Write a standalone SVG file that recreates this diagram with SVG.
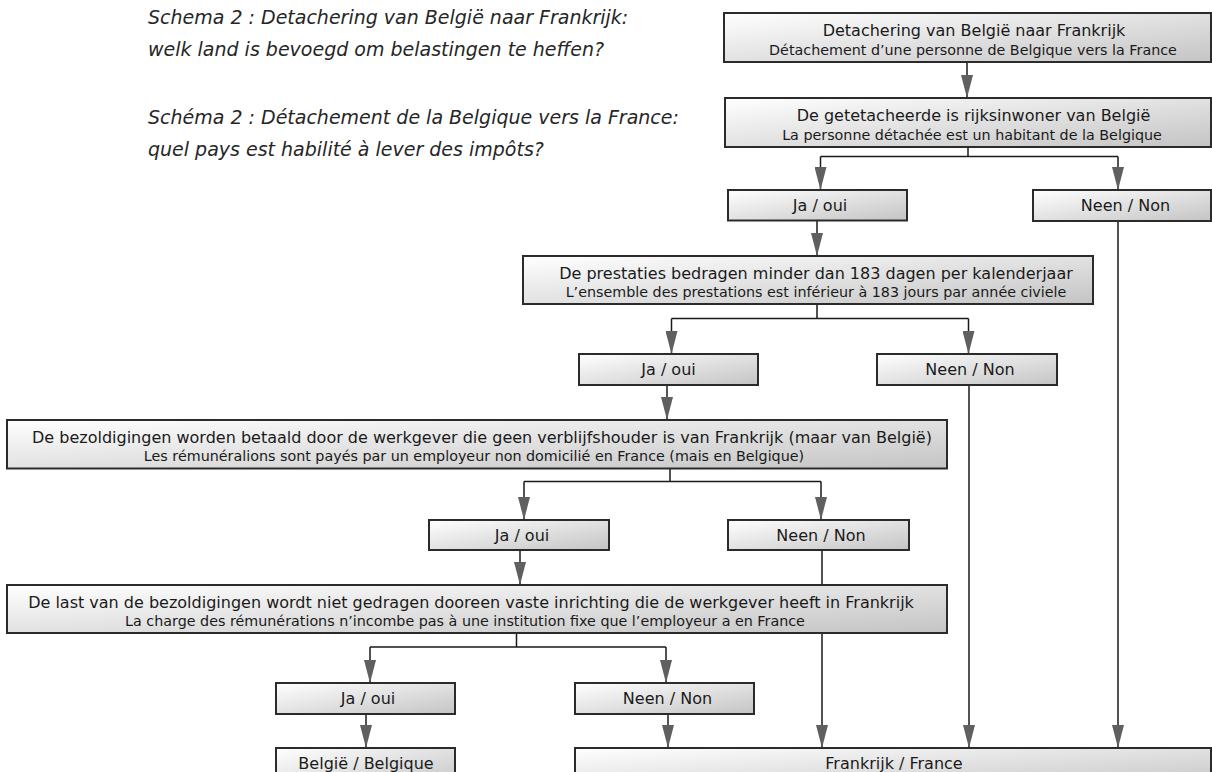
<svg xmlns="http://www.w3.org/2000/svg" width="1212" height="772" viewBox="0 0 1212 772">
<defs>
<linearGradient id="g" x1="0" y1="0" x2="1" y2="1">
<stop offset="0" stop-color="#ffffff"/>
<stop offset="1" stop-color="#c4c4c4"/>
</linearGradient>
<marker id="ah" markerUnits="userSpaceOnUse" markerWidth="23" markerHeight="12" viewBox="0 0 23 12" refX="23" refY="6" orient="auto">
<path d="M0,0 L23,6 L0,12 Z" fill="#606060"/>
</marker>
<style>
.box{fill:url(#g);stroke:#2b2b2b;stroke-width:2}
.t1{font-family:'DejaVu Sans',Verdana,sans-serif;font-size:16px;fill:#1a1a1a;text-anchor:middle}
.t2{font-family:'DejaVu Sans',Verdana,sans-serif;font-size:14.3px;fill:#1a1a1a;text-anchor:middle}
.title{font-family:'DejaVu Sans',Verdana,sans-serif;font-style:italic;font-size:19px;fill:#262626}
.c{fill:none;stroke:#1a1a1a;stroke-width:1.5}
.a{marker-end:url(#ah)}
</style>
</defs>

<g id="title">
<text class="title" x="148" y="24">Schema 2 : Detachering van België naar Frankrijk:</text>
<text class="title" x="148" y="56">welk land is bevoegd om belastingen te heffen?</text>
<text class="title" x="148" y="124">Schéma 2 : Détachement de la Belgique vers la France:</text>
<text class="title" x="148" y="156">quel pays est habilité à lever des impôts?</text>
</g>

<g id="connectors">
<path class="c a" d="M967,62 V98"/>
<path class="c" d="M968,147 V156.5 M820.5,156.5 H1118"/>
<path class="c a" d="M820.5,156.5 V190"/>
<path class="c a" d="M1118,156.5 V190"/>
<path class="c a" d="M817,220.5 V256"/>
<path class="c" d="M817,304 V318.5 M671.5,318.5 H968.5"/>
<path class="c a" d="M671.5,318.5 V354"/>
<path class="c a" d="M968.5,318.5 V354"/>
<path class="c a" d="M667,385 V420"/>
<path class="c" d="M670,468.5 V481.5 M524,481.5 H821"/>
<path class="c a" d="M524,481.5 V520"/>
<path class="c a" d="M821,481.5 V520"/>
<path class="c a" d="M520,550 V585"/>
<path class="c" d="M516.5,633 V647 M370,647 H666"/>
<path class="c a" d="M370,647 V683"/>
<path class="c a" d="M666,647 V683"/>
<path class="c a" d="M366,714 V748"/>
<path class="c a" d="M668,714 V748"/>
<path class="c a" d="M822,550 V748"/>
<path class="c a" d="M969,385 V748"/>
<path class="c a" d="M1118,221 V748"/>
</g>

<g id="n1">
<rect class="box" x="724" y="13" width="487" height="49"/>
<text class="t1" x="974" y="36">Detachering van België naar Frankrijk</text>
<text class="t2" x="973" y="54.5">Détachement d’une personne de Belgique vers la France</text>
</g>
<g id="n2">
<rect class="box" x="725" y="98" width="486" height="49"/>
<text class="t1" x="973.5" y="121">De getetacheerde is rijksinwoner van België</text>
<text class="t2" x="972" y="139.5">La personne détachée est un habitant de la Belgique</text>
</g>
<g id="n2ja">
<rect class="box" x="728" y="190" width="179" height="30.5"/>
<text class="t1" x="820" y="210.5">Ja / oui</text>
</g>
<g id="n2nee">
<rect class="box" x="1033" y="190" width="178" height="31"/>
<text class="t1" x="1125.5" y="211">Neen / Non</text>
</g>
<g id="n3">
<rect class="box" x="523" y="256" width="570" height="48"/>
<text class="t1" x="816" y="279">De prestaties bedragen minder dan 183 dagen per kalenderjaar</text>
<text class="t2" x="816" y="297">L’ensemble des prestations est inférieur à 183 jours par année civiele</text>
</g>
<g id="n3ja">
<rect class="box" x="579" y="354" width="179" height="31"/>
<text class="t1" x="668.5" y="375">Ja / oui</text>
</g>
<g id="n3nee">
<rect class="box" x="877" y="354" width="180" height="31"/>
<text class="t1" x="970" y="375">Neen / Non</text>
</g>
<g id="n4">
<rect class="box" x="7" y="420" width="940" height="48.5"/>
<text class="t1" x="482" y="442.5">De bezoldigingen worden betaald door de werkgever die geen verblijfshouder is van Frankrijk (maar van België)</text>
<text class="t2" x="474" y="461">Les rémunéralions sont payés par un employeur non domicilié en France (mais en Belgique)</text>
</g>
<g id="n4ja">
<rect class="box" x="429" y="520" width="180" height="30"/>
<text class="t1" x="522" y="540.5">Ja / oui</text>
</g>
<g id="n4nee">
<rect class="box" x="728" y="520" width="181" height="30"/>
<text class="t1" x="821" y="540.5">Neen / Non</text>
</g>
<g id="n5">
<rect class="box" x="7" y="585" width="940" height="48"/>
<text class="t1" x="471" y="607.5">De last van de bezoldigingen wordt niet gedragen dooreen vaste inrichting die de werkgever heeft in Frankrijk</text>
<text class="t2" x="465" y="626">La charge des rémunérations n’incombe pas à une institution fixe que l’employeur a en France</text>
</g>
<g id="n5ja">
<rect class="box" x="276" y="683" width="179" height="31"/>
<text class="t1" x="368" y="703.5">Ja / oui</text>
</g>
<g id="n5nee">
<rect class="box" x="575" y="683" width="179" height="31"/>
<text class="t1" x="667.5" y="703.5">Neen / Non</text>
</g>
<g id="belgie">
<rect class="box" x="276" y="748" width="179" height="40"/>
<text class="t1" x="366" y="768.5">België / Belgique</text>
</g>
<g id="frankrijk">
<rect class="box" x="575" y="748" width="636" height="40"/>
<text class="t1" x="894" y="768.5">Frankrijk / France</text>
</g>
</svg>
